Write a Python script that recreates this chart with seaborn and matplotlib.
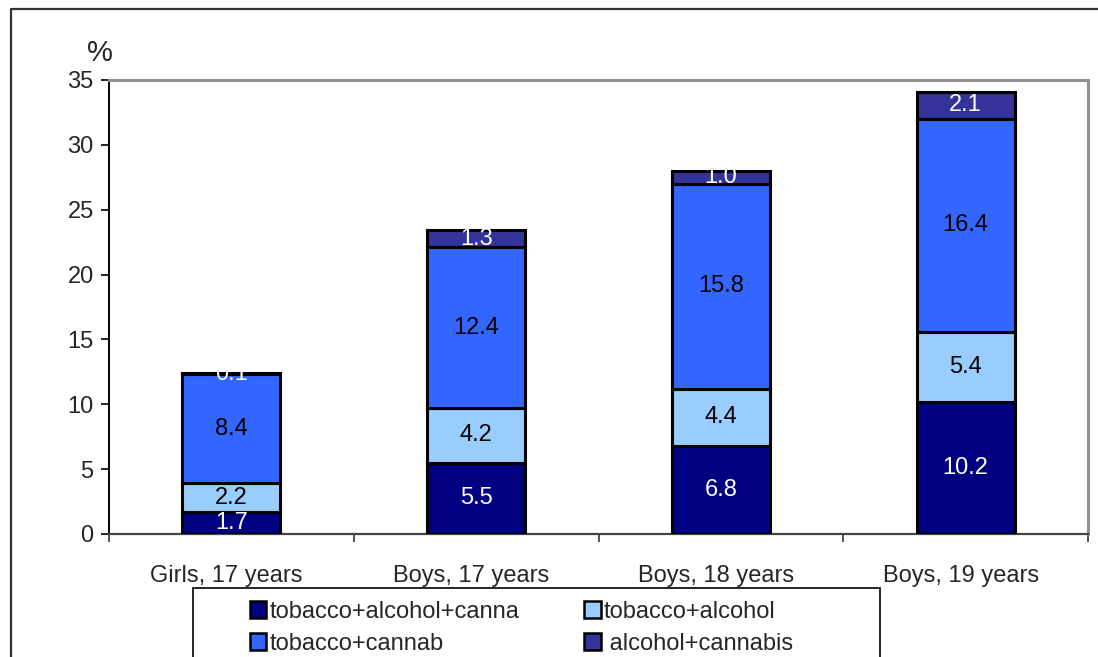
import matplotlib
matplotlib.use("Agg")
import matplotlib.pyplot as plt
from matplotlib.patches import Patch, Rectangle
from matplotlib.lines import Line2D
from matplotlib.transforms import ScaledTranslation
import seaborn as sns
import numpy as np

categories = ["Girls, 17 years", "Boys, 17 years", "Boys, 18 years", "Boys, 19 years"]
series_names = ["tobacco+alcohol+canna", "tobacco+cannab", "tobacco+alcohol", " alcohol+cannabis"]
tac = [1.7, 5.5, 6.8, 10.2]      # tobacco+alcohol+cannabis
ta = [2.2, 4.2, 4.4, 5.4]        # tobacco+alcohol
tc = [8.4, 12.4, 15.8, 16.4]     # tobacco+cannabis
ac = [0.1, 1.3, 1.0, 2.1]        # alcohol+cannabis
y_ticks = [0, 5, 10, 15, 20, 25, 30, 35]

sns.set_theme(style="white")
plt.rcParams["font.family"] = ["Liberation Sans", "DejaVu Sans"]
FS = 17

W, H = 1098, 657
fig = plt.figure(figsize=(W / 100, H / 100), dpi=100)
ax = fig.add_axes([109 / W, 1 - 534 / H, 979 / W, 454 / H])

layers = [
    (tac, "#000080", "white"),
    (ta, "#99CCFF", "black"),
    (tc, "#3366FF", "black"),
    (ac, "#333399", "white"),
]
bottom = np.zeros(len(categories))
for vals, col, tcol in layers:
    sns.barplot(x=categories, y=vals, bottom=bottom, color=col, saturation=1,
                width=0.4, edgecolor="black", linewidth=2.2, ax=ax, zorder=3)
    cont = ax.containers[-1]
    ax.bar_label(cont, labels=[f"{v:.1f}" for v in vals], label_type="center",
                 color=tcol, fontsize=FS, zorder=4)
    bottom = bottom + np.array(vals)

ax.set_xlim(-0.5, 3.5)
ax.set_ylim(0, 35)
ax.set_yticks(y_ticks)
ax.set_yticklabels([str(t) for t in y_ticks], fontsize=FS)
ax.set_xticks(range(len(categories)))
ax.set_xticklabels(categories, fontsize=FS)
ax.set_xticks(np.arange(-0.5, 4.0, 1.0), minor=True)
ax.tick_params(axis="x", which="major", length=0, pad=22)
ax.tick_params(axis="x", which="minor", length=6, width=1.2, color="#333333", direction="out", bottom=True)
ax.tick_params(axis="y", which="major", length=6, width=1.2, color="black", direction="out", pad=5, left=True)
ax.set_xlabel("")
ax.set_ylabel("")
ax.grid(False)

# nudge category labels slightly to the left
shift = ScaledTranslation(-5 / 100, 0, fig.dpi_scale_trans)
for lbl in ax.get_xticklabels():
    lbl.set_transform(lbl.get_transform() + shift)

for side, col, lw in [("left", "black", 1.4), ("bottom", "#444444", 1.6),
                      ("top", "#909090", 2.2), ("right", "#909090", 2.2)]:
    ax.spines[side].set_visible(True)
    ax.spines[side].set_color(col)
    ax.spines[side].set_linewidth(lw)

fig.text(100 / W, 1 - 53 / H, "%", fontsize=FS + 4, ha="center", va="center")

# outer chart frame
fig.add_artist(Line2D([11 / W, 11 / W], [0, 1 - 9 / H], color="#333333", lw=1.6))
fig.add_artist(Line2D([11 / W, 1], [1 - 9 / H, 1 - 9 / H], color="#333333", lw=1.6))

# legend box
fig.add_artist(Rectangle((193 / W, -0.05), (880 - 193) / W, 0.05 + (657 - 588) / H,
                         transform=fig.transFigure, facecolor="white",
                         edgecolor="black", lw=1.2))
handles = [Patch(facecolor=c, edgecolor="black", lw=1.8) for _, c, _ in
           [layers[0], layers[2], layers[1], layers[3]]]
fig.legend(handles, series_names, ncol=2, loc="upper left",
           bbox_to_anchor=(238 / W, 1 - 589 / H), frameon=False, fontsize=FS,
           borderpad=0, handlelength=0.7, handleheight=0.7, handletextpad=0.12,
           columnspacing=2.75, labelspacing=0.42)

fig.savefig("out.png", dpi=100)
